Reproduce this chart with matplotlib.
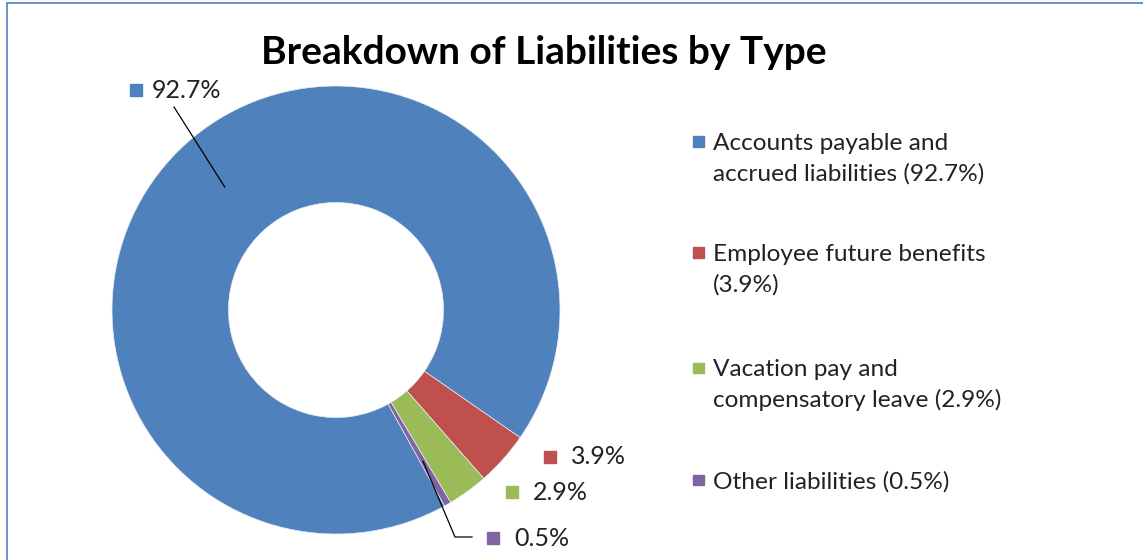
import numpy as np
import matplotlib.pyplot as plt
from matplotlib.patches import Rectangle

plt.rcParams['font.family'] = ['Lato', 'DejaVu Sans']

# liabilities by type, in percent of total
shares = [92.7, 3.9, 2.9, 0.5]
value_labels = ['92.7%', '3.9%', '2.9%', '0.5%']
legend_labels = ['Accounts payable and\naccrued liabilities (92.7%)',
                 'Employee future benefits\n(3.9%)',
                 'Vacation pay and\ncompensatory leave (2.9%)',
                 'Other liabilities (0.5%)']
colors = ['#4F81BD', '#C0504D', '#9BBB59', '#8064A2']

W, H = 1143, 560
fig = plt.figure(figsize=(W / 100, H / 100), dpi=100)

# donut centre and radius in pixels (from top-left)
cx, cy, R = 336, 310, 224
ax = fig.add_axes([(cx - 1.25 * R) / W, (H - cy - 1.25 * R) / H, 2.5 * R / W, 2.5 * R / H])
wedges, _ = ax.pie(shares, colors=colors, startangle=-61, counterclock=False,
                   wedgeprops=dict(width=0.52, edgecolor='#e8eef6', linewidth=0.5))
ax.set_xlim(-1.25, 1.25)
ax.set_ylim(-1.25, 1.25)


def px(x, y):
    # pixel position -> pie data coords
    return (x - cx) / R, (cy - y) / R


def mid_point(w, r=0.74):
    a = np.deg2rad((w.theta1 + w.theta2) / 2)
    return r * np.cos(a), r * np.sin(a)


# data labels: square marker position, text start
label_px = [(136, 90, 152), (550, 457, 571), (512, 492, 533), (493, 538, 514)]
for (sx, sy, tx), txt, c in zip(label_px, value_labels, colors):
    mx, my = px(sx, sy)
    ax.plot(mx, my, marker='s', ms=8, color=c, mec=c, clip_on=False)
    ttx, tty = px(tx, sy)
    ax.text(ttx, tty, txt, fontsize=18, color='#222222', ha='left', va='center')

# leader lines
x0, y0 = mid_point(wedges[0])
x1, y1 = px(174, 107)
ax.plot([x1, x0], [y1, y0], color='black', lw=0.9)

x0, y0 = mid_point(wedges[3], r=0.78)
xa, ya = px(455, 537)
xb, yb = px(472, 537)
ax.plot([x0, xa, xb], [y0, ya, yb], color='black', lw=0.9, clip_on=False)

# legend drawn by hand so the square sits on the first line
legend_y = [142, 253, 368, 480]
for y, lab, c in zip(legend_y, legend_labels, colors):
    fig.patches.append(Rectangle((693 / W, 1 - (y + 5) / H), 10.5 / W, 10.5 / H,
                                 transform=fig.transFigure, color=c))
    fig.text(713 / W, 1 - (y - 9) / H, lab, fontsize=17.6, color='#222222',
             ha='left', va='top', linespacing=1.5)

fig.text(544 / W, 1 - 52 / H, 'Breakdown of Liabilities by Type',
         fontsize=28, fontweight='bold', ha='center', va='center', color='black')

# outer frame
fig.patches.append(Rectangle((7 / W, -0.1), 1.2, 1.1 - 3 / H, transform=fig.transFigure,
                             fill=False, edgecolor='#5B89C8', linewidth=1.3))

fig.savefig('out.png', dpi=100)
